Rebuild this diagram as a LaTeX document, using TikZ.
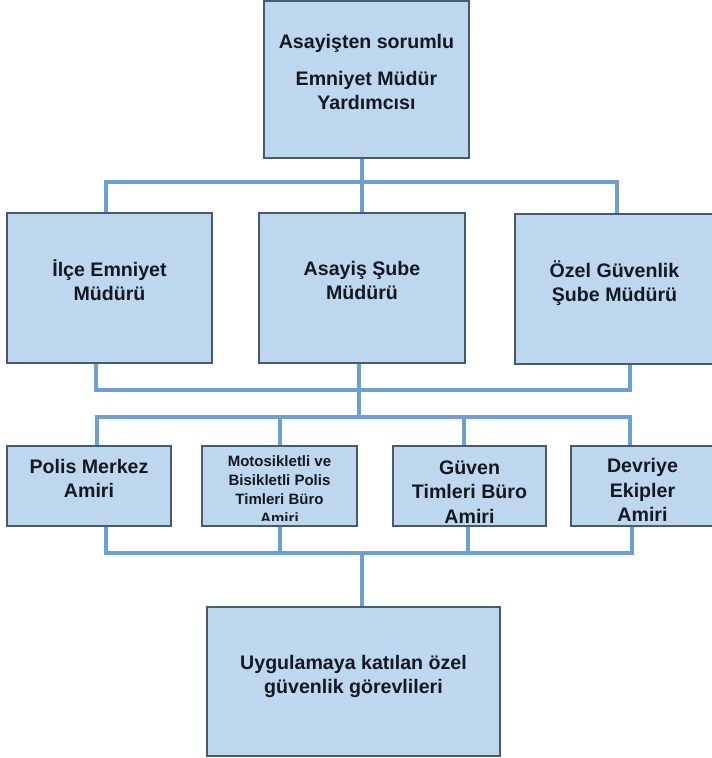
\documentclass[tikz,border=0pt]{standalone}
\usepackage{fontspec}
\setmainfont{Liberation Sans}
\definecolor{kutumavi}{RGB}{189,215,238}
\definecolor{kenargri}{RGB}{72,90,110}
\definecolor{hatmavi}{RGB}{108,160,212}
\definecolor{yazirengi}{RGB}{22,24,32}
\begin{document}
\begin{tikzpicture}[x=1pt, y=-1pt,
  kutu/.style={draw=kenargri, line width=1.3pt, fill=kutumavi, text=yazirengi,
    align=center, inner sep=0pt, font=\bfseries\fontsize{19.6}{24}\selectfont},
  yukari/.style={text depth=15pt},
  asagi/.style={text height=#1, font=\bfseries\fontsize{19.6}{24.5}\selectfont},
  kucuk/.style={text=yazirengi, align=center, inner sep=0pt,
    font=\bfseries\fontsize{15}{19}\selectfont},
  hat/.style={draw=hatmavi, line width=4pt}]
\useasboundingbox (0,0) rectangle (712,758);

\node[kutu, yukari, minimum width=205pt, minimum height=157pt] (ust) at (366.5, 79.5)
  {Asayişten sorumlu\\[13pt]Emniyet Müdür\\Yardımcısı};

\node[kutu, yukari, minimum width=205pt, minimum height=150pt] (ilce) at (109.5, 288)
  {İlçe Emniyet\\Müdürü};
\node[kutu, yukari, minimum width=206pt, minimum height=150pt] (asube) at (362, 288)
  {Asayiş Şube\\Müdürü};
\node[kutu, yukari, minimum width=199pt, minimum height=150pt] (ozel) at (614.5, 289)
  {Özel Güvenlik\\Şube Müdürü};

\node[kutu, yukari, minimum width=164pt, minimum height=80pt] (polis) at (89, 486)
  {Polis Merkez\\Amiri};
\node[kutu, minimum width=155pt, minimum height=80pt] (moto) at (279.5, 486) {};
\node[kutu, asagi=74.5pt, minimum width=153pt, minimum height=80pt] (guven) at (469.5, 486)
  {Güven\\Timleri Büro\\Amiri};
\node[kutu, asagi=71.5pt, minimum width=143pt, minimum height=80pt] (devriye) at (642.5, 486)
  {Devriye\\Ekipler\\Amiri};

% metin kutuya sigmiyor, alti kesik
\begin{scope}
\clip (moto.north west) rectangle ([yshift=6pt]moto.south east);
\node[kucuk, anchor=north, yshift=-10pt] (mototext) at (moto.north)
  {Motosikletli ve\\Bisikletli Polis\\Timleri Büro\\Amiri};
\end{scope}

\node[kutu, yukari, minimum width=293pt, minimum height=149pt] (son) at (353.5, 681.5)
  {Uygulamaya katılan özel\\güvenlik görevlileri};

\coordinate (b1) at (362, 182);
\coordinate (b2) at (359, 390);
\coordinate (b3) at (359, 417);
\coordinate (b4) at (362, 553);

\draw[hat] ([xshift=-4.5pt]ust.south) -- (b1);
\draw[hat] ([xshift=-3.5pt]ilce.north) |- (b1) -| ([xshift=2.5pt]ozel.north);
\draw[hat] (b1) -- (asube.north);

\draw[hat] ([xshift=-13.5pt]ilce.south) |- (b2) -| ([xshift=15.5pt]ozel.south);
\draw[hat] ([xshift=-3pt]asube.south) -- (b3);

\draw[hat] ([xshift=8pt]polis.north) |- (b3) -| ([xshift=-12.5pt]devriye.north);
\draw[hat] (moto.north) |- (b3);
\draw[hat] ([xshift=-5.5pt]guven.north) |- (b3);

\draw[hat] ([xshift=17pt]polis.south) |- (b4) -| ([xshift=-10.5pt]devriye.south);
\draw[hat] (moto.south) |- (b4);
\draw[hat] ([xshift=-1.5pt]guven.south) |- (b4);
\draw[hat] (b4) -- ([xshift=8.5pt]son.north);
\end{tikzpicture}
\end{document}
